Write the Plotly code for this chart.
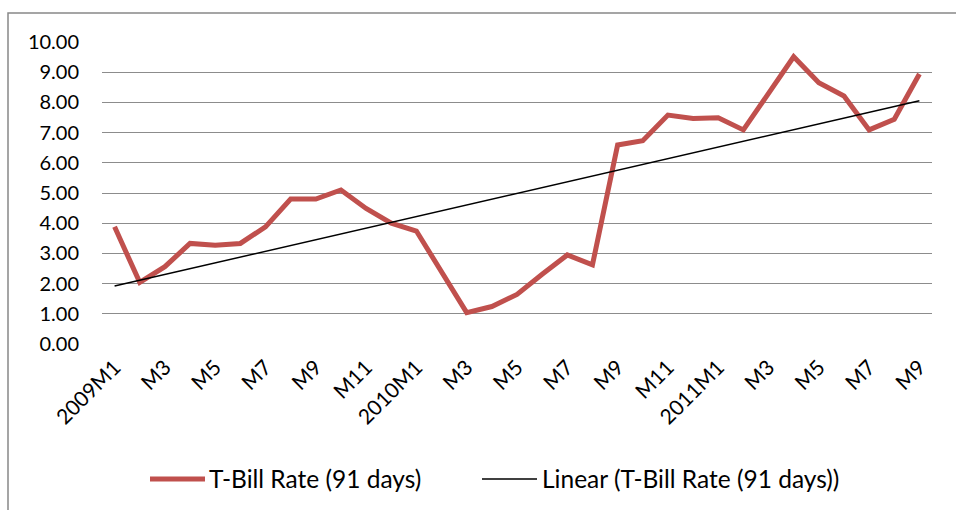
import numpy as np
import plotly.graph_objects as go

tick_labels = ["2009M1", "M3", "M5", "M7", "M9", "M11", "2010M1", "M3", "M5", "M7",
               "M9", "M11", "2011M1", "M3", "M5", "M7", "M9"]
tbill = [3.88, 2.04, 2.56, 3.33, 3.27, 3.33, 3.88, 4.80, 4.80, 5.10, 4.49, 4.00,
         3.74, 2.40, 1.04, 1.24, 1.64, 2.31, 2.95, 2.62, 6.59, 6.73, 7.58, 7.47,
         7.49, 7.09, 8.30, 9.51, 8.65, 8.21, 7.09, 7.44, 8.94]
series_names = ["T-Bill Rate (91 days)", "Linear (T-Bill Rate (91 days))"]
series_colors = ["#C0504D", "#000000"]
series_widths = [5, 1.5]

x = np.arange(len(tbill))
slope, intercept = np.polyfit(x, tbill, 1)
trend = slope * x + intercept

FONT = "Lato"
L, R, T, B = 102, 24, 42, 166
W, H = 956, 510
PW, PH = W - L - R, H - T - B


def px(v):
    return (v - L) / PW


def py(v):
    return (H - B - v) / PH


fig = go.Figure()
for yy, nm, col, wd in zip([tbill, trend], series_names, series_colors, series_widths):
    fig.add_trace(go.Scatter(x=x, y=yy, mode="lines", name=nm,
                             line=dict(color=col, width=wd), showlegend=False))

# legend drawn as shapes + text to mimic the longer sample lines
legend_items = [(150, 205, 207), (482, 537, 540)]
shapes = [dict(type="rect", xref="paper", yref="paper",
               x0=px(8), x1=1.2, y0=-0.7, y1=py(13),
               line=dict(color="#888888", width=1.5), fillcolor="rgba(0,0,0,0)",
               layer="below")]
annotations = []
for (s0, s1, tx), nm, col, wd in zip(legend_items, series_names, series_colors, series_widths):
    shapes.append(dict(type="line", xref="paper", yref="paper",
                       x0=px(s0), x1=px(s1), y0=py(479), y1=py(479),
                       line=dict(color=col, width=wd)))
    annotations.append(dict(xref="paper", yref="paper", x=px(tx), y=py(478),
                            xanchor="left", yanchor="middle", text=nm, showarrow=False,
                            font=dict(family=FONT, size=24.5, color="#000000")))

fig.update_layout(
    width=W, height=H,
    margin=dict(l=L, r=R, t=T, b=B),
    paper_bgcolor="white", plot_bgcolor="white",
    font=dict(family=FONT, size=20, color="#000000"),
    showlegend=False,
    xaxis=dict(range=[-0.5, 32.5], tickmode="array", tickvals=list(range(0, 33, 2)),
               ticktext=tick_labels, tickangle=-45, showgrid=False, zeroline=False,
               showline=False, ticks="", ticklabelstandoff=6,
               tickfont=dict(family=FONT, size=21)),
    yaxis=dict(range=[0, 10], tickmode="array", tickvals=list(range(0, 11)),
               tickformat=".2f", showgrid=True, gridcolor="#8c8c8c", gridwidth=1.3,
               zeroline=False, showline=False, ticks="", ticklabelstandoff=22,
               tickfont=dict(family=FONT, size=20)),
    shapes=shapes,
    annotations=annotations,
)

fig.write_html("out.html", post_script="document.body.style.margin='0';",
               config={"displayModeBar": False})
